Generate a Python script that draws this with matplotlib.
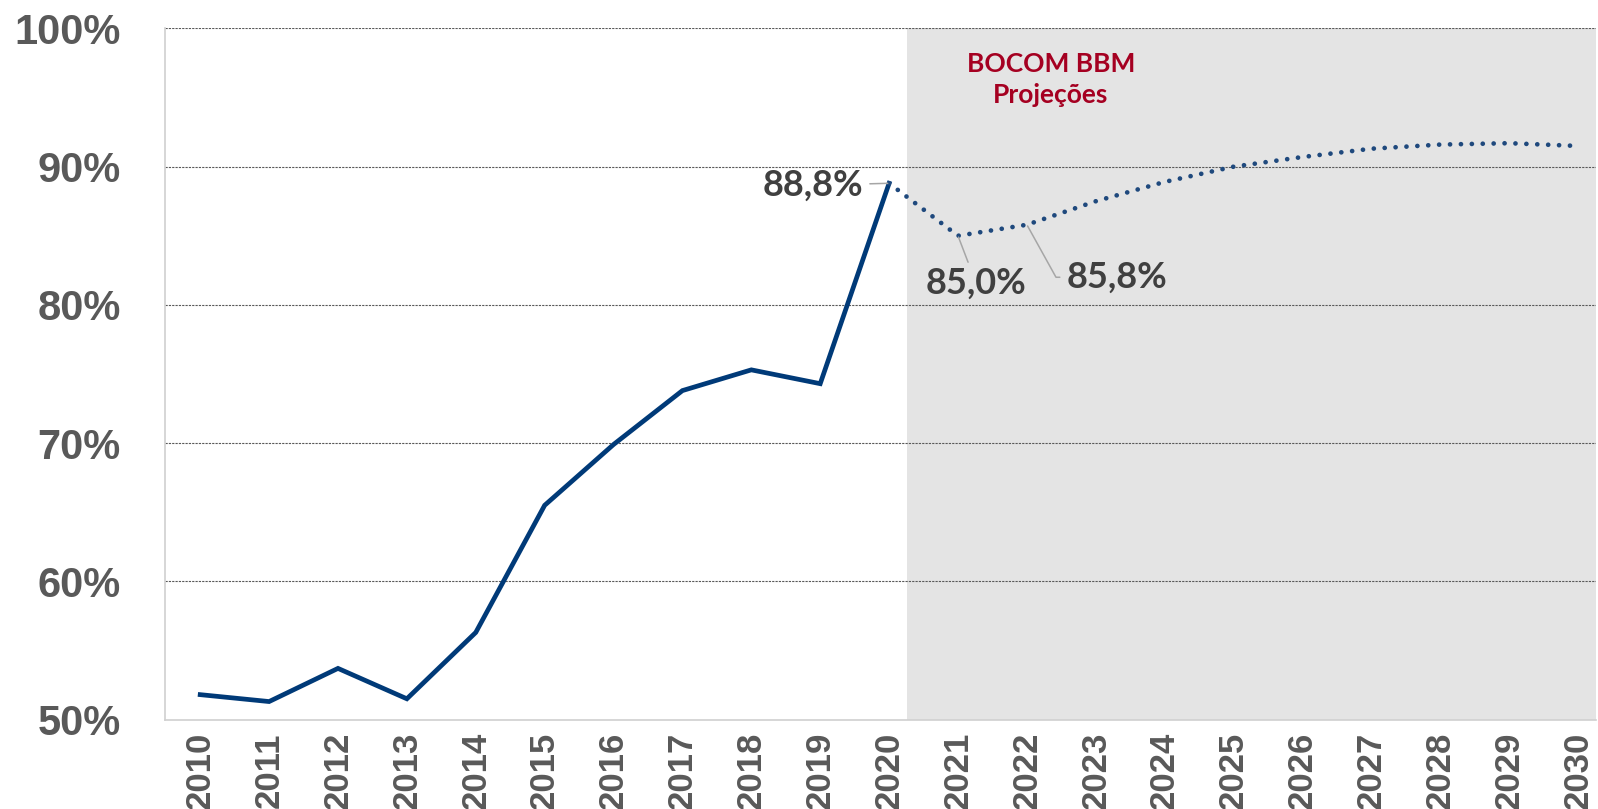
import matplotlib
matplotlib.use('Agg')
import matplotlib.pyplot as plt
from matplotlib.ticker import FixedLocator

# dados históricos e projeções
anos_hist = [2010, 2011, 2012, 2013, 2014, 2015, 2016, 2017, 2018, 2019, 2020]
valores_hist = [51.8, 51.3, 53.7, 51.5, 56.3, 65.5, 69.9, 73.8, 75.3, 74.3, 88.8]
anos_proj = [2020, 2021, 2022, 2023, 2024, 2025, 2026, 2027, 2028, 2029, 2030]
valores_proj = [88.8, 85.0, 85.8, 87.5, 88.9, 90.0, 90.7, 91.3, 91.6, 91.7, 91.5]
y_ticks = [50, 60, 70, 80, 90, 100]
y_labels = ['50%', '60%', '70%', '80%', '90%', '100%']
inicio_proj = 2020.26
titulo_proj = 'BOCOM BBM\nProjeções'

navy = '#003A78'
navy_dot = '#1F497D'
cinza_txt = '#595959'
cinza_lbl = '#404040'
cinza_leader = '#A6A6A6'

fig = plt.figure(figsize=(15.98, 8.09), dpi=100)
ax = fig.add_axes([0.1033, 0.1106, 0.8954, 0.8542])

ax.axvspan(inicio_proj, 2031, color='#E4E4E4', zorder=0, lw=0)

ax.plot(anos_hist, valores_hist, color=navy, lw=3.4, solid_joinstyle='miter', zorder=3)
ax.plot(anos_proj, valores_proj, color=navy_dot, lw=3.4, linestyle=(0, (0.01, 2.3)),
        dash_capstyle='round', zorder=3)

ax.set_xlim(2009.49, 2030.26)
ax.set_ylim(50, 100)

for y in y_ticks[1:]:
    ax.axhline(y, color='#595959', lw=0.8, linestyle=(0, (2, 1)), zorder=1)

for s in ['top', 'right']:
    ax.spines[s].set_visible(False)
for s in ['left', 'bottom']:
    ax.spines[s].set_color('#D0D0D0')
    ax.spines[s].set_linewidth(1.2)

ax.yaxis.set_major_locator(FixedLocator(y_ticks))
ax.set_yticklabels(y_labels)
ax.set_xticks(anos_hist + anos_proj[1:])
ax.set_xticklabels([str(a) for a in anos_hist + anos_proj[1:]], rotation=90)
ax.tick_params(axis='y', length=0, pad=32, labelsize=30, labelcolor=cinza_txt)
ax.tick_params(axis='x', length=0, pad=9, labelsize=25, labelcolor=cinza_txt)
for lbl in ax.get_xticklabels() + ax.get_yticklabels():
    lbl.set_fontweight('bold')
    lbl.set_fontfamily('Liberation Sans')

ax.text(2022.35, 96.3, titulo_proj, ha='center', va='center', fontsize=19,
        fontweight='bold', color='#A50021', family='Lato', linespacing=1.35)

# rótulos dos pontos
fonte_lbl = dict(fontsize=26, fontweight='bold', color=cinza_lbl, family='Lato')
ax.annotate('88,8%', xy=(anos_proj[0], valores_proj[0]), xytext=(2019.62, 88.65),
            ha='right', va='center', zorder=4,
            arrowprops=dict(arrowstyle='-', color=cinza_leader, lw=1.1,
                            shrinkA=3, shrinkB=1), **fonte_lbl)
ax.annotate('85,0%', xy=(anos_proj[1], valores_proj[1]), xytext=(2021.26, 81.6),
            ha='center', va='center', zorder=4,
            arrowprops=dict(arrowstyle='-', color=cinza_leader, lw=1.1,
                            shrinkA=1, shrinkB=1), **fonte_lbl)
ax.annotate('85,8%', xy=(anos_proj[2], valores_proj[2]), xytext=(2023.31, 82.0),
            ha='center', va='center', zorder=4,
            arrowprops=dict(arrowstyle='-', color=cinza_leader, lw=1.1,
                            shrinkA=3, shrinkB=1,
                            connectionstyle='angle,angleA=0,angleB=-61,rad=0'),
            **fonte_lbl)

fig.savefig('out.png', dpi=100)
